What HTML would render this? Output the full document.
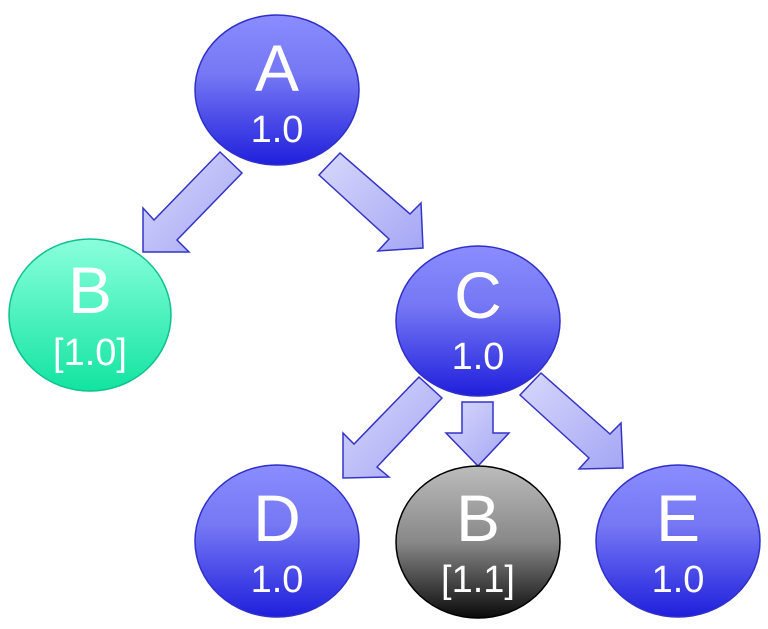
<!DOCTYPE html>
<html><head><style>body{margin:0;background:#fff}svg{display:block}</style></head><body>
<svg width="768" height="629" viewBox="0 0 768 629" xmlns="http://www.w3.org/2000/svg" font-family="Liberation Sans, sans-serif">
<defs>
<linearGradient id="bl" x1="0" y1="0" x2="0" y2="1"><stop offset="0" stop-color="#8a8cff"/><stop offset="0.4" stop-color="#7577f4"/><stop offset="1" stop-color="#1f1fdc"/></linearGradient>
<linearGradient id="gr" x1="0" y1="0" x2="0" y2="1"><stop offset="0" stop-color="#8affdc"/><stop offset="1" stop-color="#12e4a0"/></linearGradient>
<linearGradient id="bk" x1="0" y1="0" x2="0" y2="1"><stop offset="0" stop-color="#bcbcbc"/><stop offset="0.5" stop-color="#888"/><stop offset="1" stop-color="#0a0a0a"/></linearGradient>
<linearGradient id="ar" x1="0" y1="0" x2="1" y2="1"><stop offset="0" stop-color="#d8d8fc"/><stop offset="1" stop-color="#a4a6f4"/></linearGradient>
</defs>
<g fill="url(#ar)" stroke="#3434c8" stroke-width="1.5" stroke-linejoin="miter">
<polygon points="220,152 242,173 177,240 189,252 143,252 143,208 154,220"/>
<polygon points="340,153 319,175 389,239 378,251 423,248 421,203 410,214"/>
<polygon points="419,377 442,398 377,467 389,477 343,478 343,433 354,444"/>
<polygon points="462,402 493,402 493,433 509,433 478,466 446,433 462,433"/>
<polygon points="541,373 520,395 589,458 579,469 623,468 621,423 610,434"/>
</g>
<g stroke-width="1.5">
<ellipse cx="277" cy="90" rx="82" ry="75" fill="url(#bl)" stroke="#3030c8"/>
<ellipse cx="90" cy="315" rx="81" ry="76" fill="url(#gr)" stroke="#10c090"/>
<ellipse cx="478" cy="321" rx="82" ry="75" fill="url(#bl)" stroke="#3030c8"/>
<ellipse cx="277" cy="541" rx="82" ry="76" fill="url(#bl)" stroke="#3030c8"/>
<ellipse cx="478" cy="542" rx="82" ry="76" fill="url(#bk)" stroke="#000"/>
<ellipse cx="678" cy="541" rx="82" ry="76" fill="url(#bl)" stroke="#3030c8"/>
</g>
<g fill="#fff" text-anchor="middle">
<g font-size="66">
<text x="277" y="91">A</text><text x="90" y="313">B</text><text x="478" y="318">C</text>
<text x="277" y="541">D</text><text x="478" y="541">B</text><text x="678" y="541">E</text>
</g>
<g font-size="38">
<text x="277" y="142">1.0</text><text x="90" y="365">[1.0]</text><text x="478" y="369">1.0</text>
<text x="277" y="592">1.0</text><text x="478" y="592">[1.1]</text><text x="678" y="592">1.0</text>
</g>
</g>
</svg>
</body></html>
